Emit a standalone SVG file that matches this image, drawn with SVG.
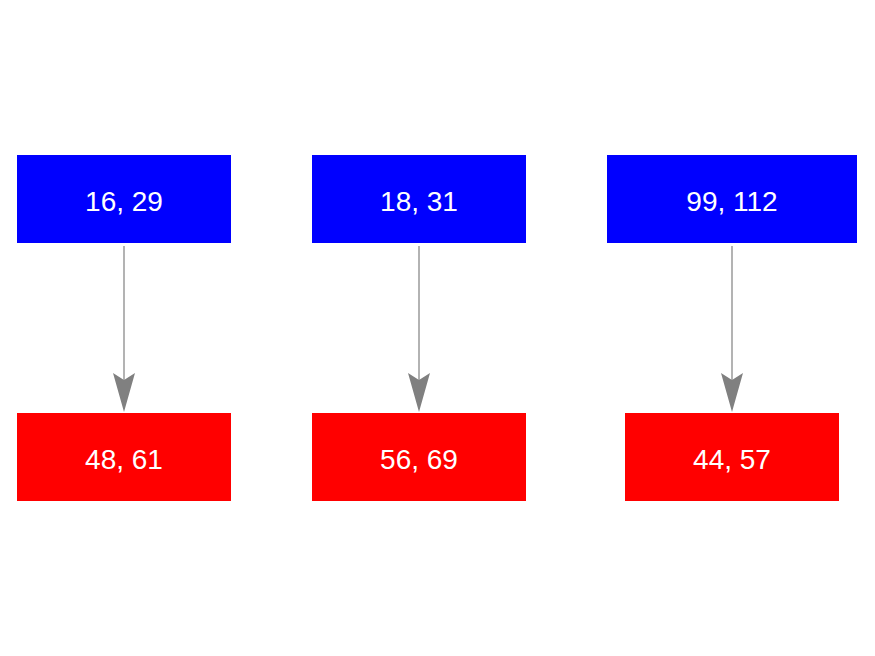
<svg xmlns="http://www.w3.org/2000/svg" width="875" height="656" viewBox="0 0 875 656">
<style>
.blue{fill:#0000ff;}
.red{fill:#ff0000;}
.lbl{font-family:"Liberation Sans",Arial,sans-serif;font-size:28px;fill:#ffffff;text-anchor:middle;}
.edge{stroke:#808080;stroke-width:1.2;fill:none;}
.head{fill:#808080;}
</style>
<rect width="875" height="656" fill="#ffffff"/>
<g id="edges">
<line class="edge" x1="124" y1="246" x2="124" y2="380"/>
<path class="head" d="M124,412 L113,373 L124,380 L135,373 Z"/>
<line class="edge" x1="419" y1="246" x2="419" y2="380"/>
<path class="head" d="M419,412 L408,373 L419,380 L430,373 Z"/>
<line class="edge" x1="732" y1="246" x2="732" y2="380"/>
<path class="head" d="M732,412 L721,373 L732,380 L743,373 Z"/>
</g>
<g id="n1"><rect class="blue" x="17" y="155" width="214" height="88"/><text class="lbl" x="124" y="211">16, 29</text></g>
<g id="n2"><rect class="blue" x="312" y="155" width="214" height="88"/><text class="lbl" x="419" y="211">18, 31</text></g>
<g id="n3"><rect class="blue" x="607" y="155" width="250" height="88"/><text class="lbl" x="732" y="211">99, 112</text></g>
<g id="n4"><rect class="red" x="17" y="413" width="214" height="88"/><text class="lbl" x="124" y="469">48, 61</text></g>
<g id="n5"><rect class="red" x="312" y="413" width="214" height="88"/><text class="lbl" x="419" y="469">56, 69</text></g>
<g id="n6"><rect class="red" x="625" y="413" width="214" height="88"/><text class="lbl" x="732" y="469">44, 57</text></g>
</svg>
